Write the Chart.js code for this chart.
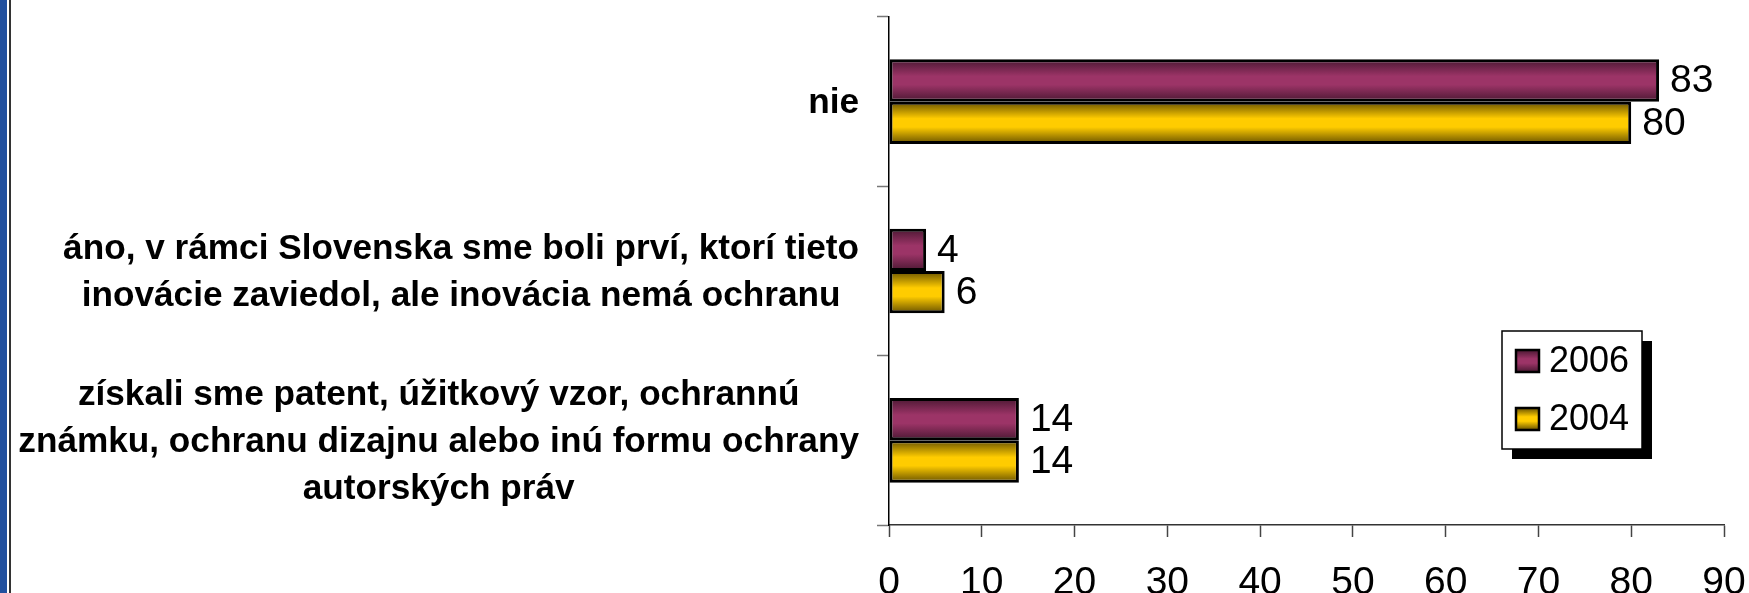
<!DOCTYPE html>
<html>
<head>
<meta charset="utf-8">
<script src="https://cdn.jsdelivr.net/npm/chart.js@4/dist/chart.umd.min.js"></script>
<style>
  html, body { margin: 0; padding: 0; background: #fff; overflow: hidden; }
  #wrap { position: relative; width: 1749px; height: 593px; }
  #c { position: absolute; left: 0; top: 0; }
  .strip { position: absolute; left: 0; top: 0; width: 7px; height: 593px; background: #22509e; }
  .rule { position: absolute; left: 9px; top: 0; width: 1.5px; height: 593px; background: #333; }
</style>
</head>
<body>
<div id="wrap">
  <canvas id="c" width="1749" height="593"></canvas>
  <div class="strip"></div>
  <div class="rule"></div>
</div>
<script>
// ---- data ----
const categories = [
  ['nie'],
  ['áno, v rámci Slovenska sme boli prví, ktorí tieto', 'inovácie zaviedol, ale inovácia nemá ochranu'],
  ['získali sme patent, úžitkový vzor, ochrannú', 'známku, ochranu dizajnu alebo inú formu ochrany', 'autorských práv']
];
const seriesNames = ['2006', '2004'];
const values2006 = [83, 4, 14];
const values2004 = [80, 6, 14];
const xTickMin = 0;
const xTickMax = 90;
const xTickStep = 10;

// ---- styles ----
const FONT = "'Liberation Sans', Arial, Helvetica, sans-serif";
const seriesColors = [
  { dark: '#4a1832', light: '#9c3467' },
  { dark: '#665000', light: '#ffcc00' }
];

function gradFor(ctx, top, bottom, col) {
  const g = ctx.createLinearGradient(0, top, 0, bottom);
  g.addColorStop(0, col.dark);
  g.addColorStop(0.4, col.light);
  g.addColorStop(0.6, col.light);
  g.addColorStop(1, col.dark);
  return g;
}

const gradientPlugin = {
  id: 'gradientBars',
  beforeDatasetDraw(chart, args) {
    const ctx = chart.ctx;
    const col = seriesColors[args.index];
    args.meta.data.forEach(el => {
      const top = el.y - el.height / 2, bottom = el.y + el.height / 2;
      el.options = Object.assign({}, el.options, { backgroundColor: gradFor(ctx, top, bottom, col) });
    });
  }
};

const valueLabelPlugin = {
  id: 'valueLabels',
  afterDatasetsDraw(chart) {
    const ctx = chart.ctx;
    ctx.save();
    ctx.font = '39px ' + FONT;
    ctx.fillStyle = '#000';
    ctx.textAlign = 'left';
    ctx.textBaseline = 'middle';
    chart.data.datasets.forEach((ds, di) => {
      chart.getDatasetMeta(di).data.forEach((el, i) => {
        ctx.fillText(String(ds.data[i]), el.x + 11, el.y + 1);
      });
    });
    ctx.restore();
  }
};

const categoryLabelPlugin = {
  id: 'categoryLabels',
  afterDraw(chart) {
    const ctx = chart.ctx;
    const ys = chart.scales.y;
    ctx.save();
    ctx.font = 'bold 35.2px ' + FONT;
    ctx.fillStyle = '#000';
    ctx.textAlign = 'center';
    ctx.textBaseline = 'middle';
    const lh = 47;
    const right = ys.right - 30;
    chart.data.labels.forEach((lines, i) => {
      const cy = ys.getPixelForValue(i) + 2;
      const w = Math.max(...lines.map(l => ctx.measureText(l).width));
      const cx = right - w / 2;
      const y0 = cy - (lines.length - 1) * lh / 2;
      lines.forEach((l, k) => ctx.fillText(l, cx, y0 + k * lh));
    });
    ctx.restore();
  }
};

const legendPlugin = {
  id: 'boxLegend',
  afterDraw(chart) {
    const ctx = chart.ctx;
    const bx = 1502, by = 331, bw = 140, bh = 118, sh = 10;
    ctx.save();
    ctx.fillStyle = '#000';
    ctx.fillRect(bx + sh, by + sh, bw, bh);
    ctx.fillStyle = '#fff';
    ctx.fillRect(bx, by, bw, bh);
    ctx.lineWidth = 1.5;
    ctx.strokeStyle = '#000';
    ctx.strokeRect(bx, by, bw, bh);
    ctx.font = '36px ' + FONT;
    ctx.textBaseline = 'middle';
    ctx.textAlign = 'left';
    const rows = [361, 419];
    chart.data.datasets.forEach((ds, di) => {
      const cy = rows[di];
      const sx = 1516, sy = cy - 11, sw = 23, shh = 22;
      ctx.fillStyle = gradFor(ctx, sy, sy + shh, seriesColors[di]);
      ctx.fillRect(sx, sy, sw, shh);
      ctx.lineWidth = 2.5;
      ctx.strokeStyle = '#000';
      ctx.strokeRect(sx, sy, sw, shh);
      ctx.fillStyle = '#000';
      ctx.fillText(ds.label, 1549, cy + 1);
    });
    ctx.restore();
  }
};

new Chart(document.getElementById('c'), {
  type: 'bar',
  data: {
    labels: categories,
    datasets: [
      { label: seriesNames[0], data: values2006, backgroundColor: seriesColors[0].light },
      { label: seriesNames[1], data: values2004, backgroundColor: seriesColors[1].light }
    ]
  },
  options: {
    indexAxis: 'y',
    responsive: false,
    animation: false,
    devicePixelRatio: 1,
    layout: { padding: { top: 17, right: 25, left: 0, bottom: 0 } },
    datasets: {
      bar: {
        categoryPercentage: 0.5,
        barPercentage: 1.0,
        borderColor: '#000',
        borderWidth: 3,
        borderSkipped: false
      }
    },
    plugins: {
      legend: { display: false },
      tooltip: { enabled: false }
    },
    scales: {
      x: {
        min: xTickMin,
        max: xTickMax,
        ticks: {
          stepSize: xTickStep,
          color: '#000',
          padding: 23,
          font: { family: FONT, size: 39 },
          maxRotation: 0
        },
        grid: { drawOnChartArea: false, drawTicks: true, tickLength: 12, tickColor: '#444', tickWidth: 1.5 },
        border: { display: true, color: '#333', width: 1.5 },
        afterFit(scale) { scale.height = 68; scale.paddingRight = 0; scale.paddingLeft = 0; }
      },
      y: {
        ticks: { display: false },
        grid: { drawOnChartArea: false, drawTicks: true, tickLength: 12, tickColor: '#777', tickWidth: 1.5, offset: true },
        border: { display: true, color: '#000', width: 1.5 },
        afterFit(scale) { scale.width = 889; }
      }
    }
  },
  plugins: [gradientPlugin, valueLabelPlugin, categoryLabelPlugin, legendPlugin]
});
</script>
</body>
</html>
